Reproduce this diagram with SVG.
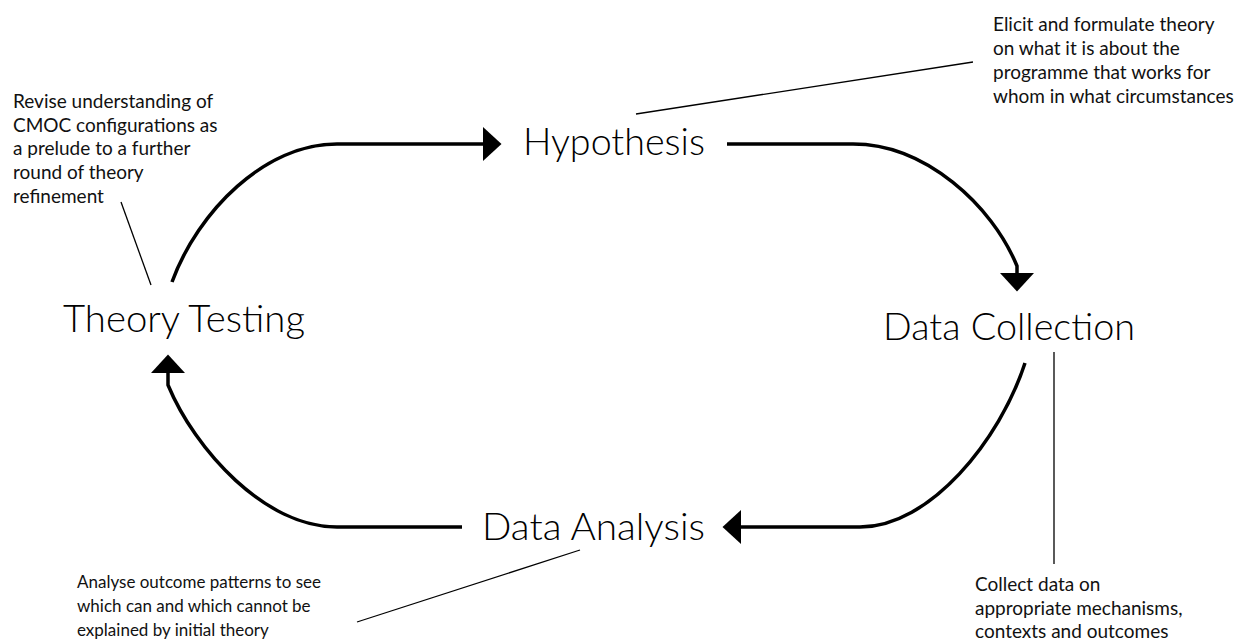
<svg xmlns="http://www.w3.org/2000/svg" width="1234" height="642" viewBox="0 0 1234 642">
<style>
  .big { font-family: Lato, "Open Sans", sans-serif; font-size: 38px; font-weight: 300; fill: #000; }
  .note { font-family: Lato, "Open Sans", sans-serif; font-size: 19px; fill: #111; }
  .small { font-size: 17px; }
  .flow { fill: none; stroke: #000; stroke-width: 3.5; marker-end: url(#head); }
  .lead { fill: none; stroke: #000; stroke-width: 1.3; }
</style>
<defs>
  <marker id="head" markerUnits="userSpaceOnUse" viewBox="0 -18 19 36" refX="0" refY="0" markerWidth="19" markerHeight="36" orient="auto" overflow="visible">
    <path d="M0,-17 L18.5,0 L0,17 Z" fill="#000"/>
  </marker>
</defs>
<rect width="1234" height="642" fill="#fff"/>
<g id="connectors">
  <path class="flow" d="M172,282 C198,211 265,144 337,144 L483,144"/>
  <path class="flow" d="M727,144 L853,144 C925,144 992,205 1017,266 L1017,273"/>
  <path class="flow" d="M1025,363 C1000,440 930,527 860,527 L741,527"/>
  <path class="flow" d="M462,527 L337,527 C265,527 195,450 168,385 L168,373"/>
  <line class="lead" x1="636" y1="114" x2="973" y2="62"/>
  <line class="lead" x1="121" y1="202" x2="151" y2="285"/>
  <line class="lead" x1="1054" y1="352" x2="1054" y2="564"/>
  <line class="lead" x1="357" y1="622" x2="580" y2="550"/>
</g>
<g id="hypothesis">
  <text class="big" x="523" y="155" textLength="182" lengthAdjust="spacingAndGlyphs">Hypothesis</text>
</g>
<g id="data-collection">
  <text class="big" x="883" y="340" textLength="252" lengthAdjust="spacingAndGlyphs">Data Collection</text>
</g>
<g id="data-analysis">
  <text class="big" x="482" y="540" textLength="223" lengthAdjust="spacingAndGlyphs">Data Analysis</text>
</g>
<g id="theory-testing">
  <text class="big" x="63" y="332" textLength="242" lengthAdjust="spacingAndGlyphs">Theory Testing</text>
</g>
<g id="note-hypothesis">
  <text class="note" x="993" y="31">Elicit and formulate theory</text>
  <text class="note" x="993" y="55">on what it is about the</text>
  <text class="note" x="993" y="79">programme that works for</text>
  <text class="note" x="993" y="103">whom in what circumstances</text>
</g>
<g id="note-theory-testing">
  <text class="note" x="13" y="108">Revise understanding of</text>
  <text class="note" x="13" y="132">CMOC configurations as</text>
  <text class="note" x="13" y="155">a prelude to a further</text>
  <text class="note" x="13" y="179">round of theory</text>
  <text class="note" x="13" y="203">refinement</text>
</g>
<g id="note-data-analysis">
  <text class="note small" x="77" y="588">Analyse outcome patterns to see</text>
  <text class="note small" x="77" y="612">which can and which cannot be</text>
  <text class="note small" x="77" y="636">explained by initial theory</text>
</g>
<g id="note-data-collection">
  <text class="note" x="975" y="591">Collect data on</text>
  <text class="note" x="975" y="614.5">appropriate mechanisms,</text>
  <text class="note" x="975" y="638">contexts and outcomes</text>
</g>
</svg>
